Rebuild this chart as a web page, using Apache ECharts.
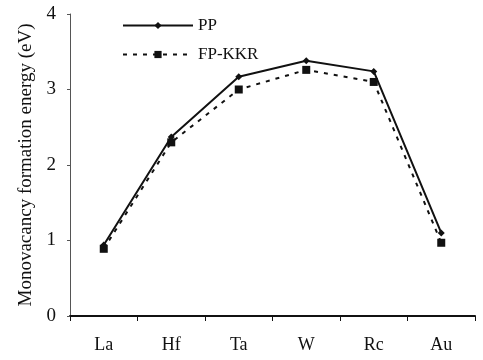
<!DOCTYPE html>
<html>
<head>
<meta charset="utf-8">
<script src="https://cdn.jsdelivr.net/npm/echarts@6/dist/echarts.min.js"></script>
<style>
  html, body { margin: 0; padding: 0; background: #fff; }
  #chart { width: 483px; height: 360px; }
</style>
</head>
<body>
<div id="chart"></div>
<script>
const elements = ['La', 'Hf', 'Ta', 'W', 'Rc', 'Au']
const ppValues = [0.94, 2.37, 3.17, 3.38, 3.24, 1.1]
const fpKkrValues = [0.89, 2.3, 3.0, 3.26, 3.1, 0.97]

const font = '"Liberation Serif", "DejaVu Serif", serif'

const chart = echarts.init(document.getElementById('chart'), null, { renderer: 'canvas' })

chart.setOption({
  animation: false,
  backgroundColor: '#fff',
  grid: { left: 70, right: 8, top: 14, bottom: 44 },
  legend: {
    orient: 'vertical',
    left: 117,
    top: 12,
    itemWidth: 70,
    itemHeight: 9,
    itemGap: 12,
    textStyle: { fontFamily: font, fontSize: 17, color: '#111' },
    data: ['PP', 'FP-KKR'],
  },
  xAxis: {
    type: 'category',
    data: elements,
    boundaryGap: true,
    axisLine: { lineStyle: { color: '#111', width: 2 } },
    axisTick: { show: true, length: 5, inside: false, lineStyle: { color: '#111' } },
    axisLabel: { fontFamily: font, fontSize: 18, color: '#111', margin: 20 },
  },
  yAxis: {
    type: 'value',
    min: 0,
    max: 4,
    interval: 1,
    name: 'Monovacancy formation energy (eV)',
    nameLocation: 'middle',
    nameGap: 34,
    nameTextStyle: { fontFamily: font, fontSize: 19, color: '#111' },
    axisLine: { show: true, lineStyle: { color: '#555', width: 1 } },
    axisTick: { show: true, length: 3, lineStyle: { color: '#555' } },
    axisLabel: { fontFamily: font, fontSize: 19, color: '#111', margin: 14 },
    splitLine: { show: false },
  },
  series: [
    {
      name: 'PP',
      type: 'line',
      data: ppValues,
      symbol: 'diamond',
      symbolSize: 7,
      itemStyle: { color: '#111' },
      lineStyle: { color: '#111', width: 2, type: 'solid' },
    },
    {
      name: 'FP-KKR',
      type: 'line',
      data: fpKkrValues,
      symbol: 'rect',
      symbolSize: 8,
      itemStyle: { color: '#111' },
      lineStyle: { color: '#111', width: 2, type: [4, 6] },
    },
  ],
})
</script>
</body>
</html>
